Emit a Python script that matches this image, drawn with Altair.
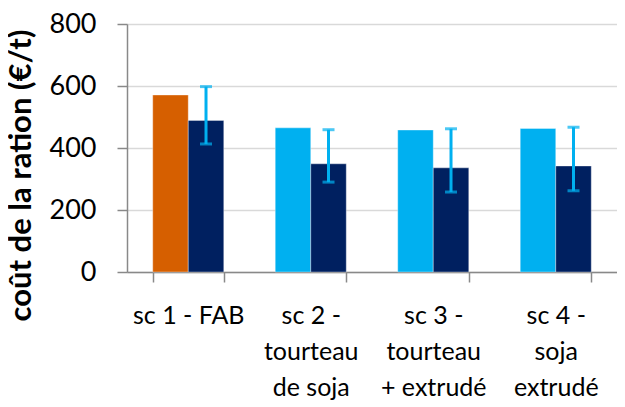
import altair as alt
import pandas as pd

categories = ["sc 1 - FAB", "sc 2 -|tourteau|de soja", "sc 3 -|tourteau|+ extrudé", "sc 4 -|soja|extrudé"]
first_values = [571, 465, 458, 463]
second_values = [489, 349, 336, 342]
err_low = [413, 290, 258, 262]
err_high = [598, 459, 462, 467]
first_colors = ["#D65F00", "#00B0F0", "#00B0F0", "#00B0F0"]
second_color = "#002060"
err_color = "#00B0F0"

rows = []
for i, c in enumerate(categories):
    rows.append({"cat": c, "serie": "a", "val": first_values[i], "col": first_colors[i]})
    rows.append({"cat": c, "serie": "b", "val": second_values[i], "col": second_color})
df = pd.DataFrame(rows)
edf = pd.DataFrame({"cat": categories, "serie": ["b"] * 4, "lo": err_low, "hi": err_high})

FONT = "Lato"

xenc = alt.X("cat:N", sort=categories,
             scale=alt.Scale(paddingInner=0.42, paddingOuter=0.21),
             axis=alt.Axis(title=None, labelAngle=0, tickBand="extent",
                           labelExpr="split(datum.label, '|')",
                           labelFont=FONT, labelFontSize=25, labelColor="#000000",
                           labelLineHeight=36, labelPadding=21,
                           domainColor="#898989", domainWidth=1.5,
                           tickColor="#898989", tickWidth=1.5, tickSize=10,
                           grid=False))
xoff = alt.XOffset("serie:N", scale=alt.Scale(domain=["a", "b"], paddingInner=0, paddingOuter=0))

bars = alt.Chart(df).mark_bar(stroke="#ffffff", strokeWidth=0.6, strokeOpacity=0.6).encode(
    x=xenc,
    xOffset=xoff,
    y=alt.Y("val:Q", scale=alt.Scale(domain=[0, 800]),
            axis=alt.Axis(values=[0, 200, 400, 600, 800], title="coût de la ration (€/t)",
                          titleFont=FONT, titleFontSize=31, titleFontWeight="bold",
                          titleColor="#000000", titleY=151, titleX=-90,
                          labelFont=FONT, labelFontSize=27, labelColor="#000000",
                          labelPadding=21,
                          domainColor="#898989", domainWidth=1.5,
                          tickColor="#898989", tickWidth=1.5, tickSize=10,
                          gridColor="#D9D9D9", gridWidth=1.5)),
    color=alt.Color("col:N", scale=None),
)

err = alt.Chart(edf).mark_rule(color=err_color, strokeWidth=3).encode(
    x=alt.X("cat:N", sort=categories),
    xOffset=alt.XOffset("serie:N"),
    y=alt.Y("lo:Q"),
    y2="hi:Q",
)
cap_lo = alt.Chart(edf).mark_tick(color=err_color, thickness=3, size=12, orient="horizontal").encode(
    x=alt.X("cat:N", sort=categories),
    xOffset=alt.XOffset("serie:N"),
    y=alt.Y("lo:Q"),
)
cap_hi = alt.Chart(edf).mark_tick(color=err_color, thickness=3, size=12, orient="horizontal").encode(
    x=alt.X("cat:N", sort=categories),
    xOffset=alt.XOffset("serie:N"),
    y=alt.Y("hi:Q"),
)

chart = alt.layer(bars, err, cap_lo, cap_hi).properties(
    width=490, height=248,
    autosize=alt.AutoSizeParams(type="none"),
    padding={"left": 119, "top": 16, "right": 0, "bottom": 130},
).configure_view(stroke=None).configure(background="#ffffff")

chart.save("out.html", embed_options={"renderer": "svg", "actions": False})
